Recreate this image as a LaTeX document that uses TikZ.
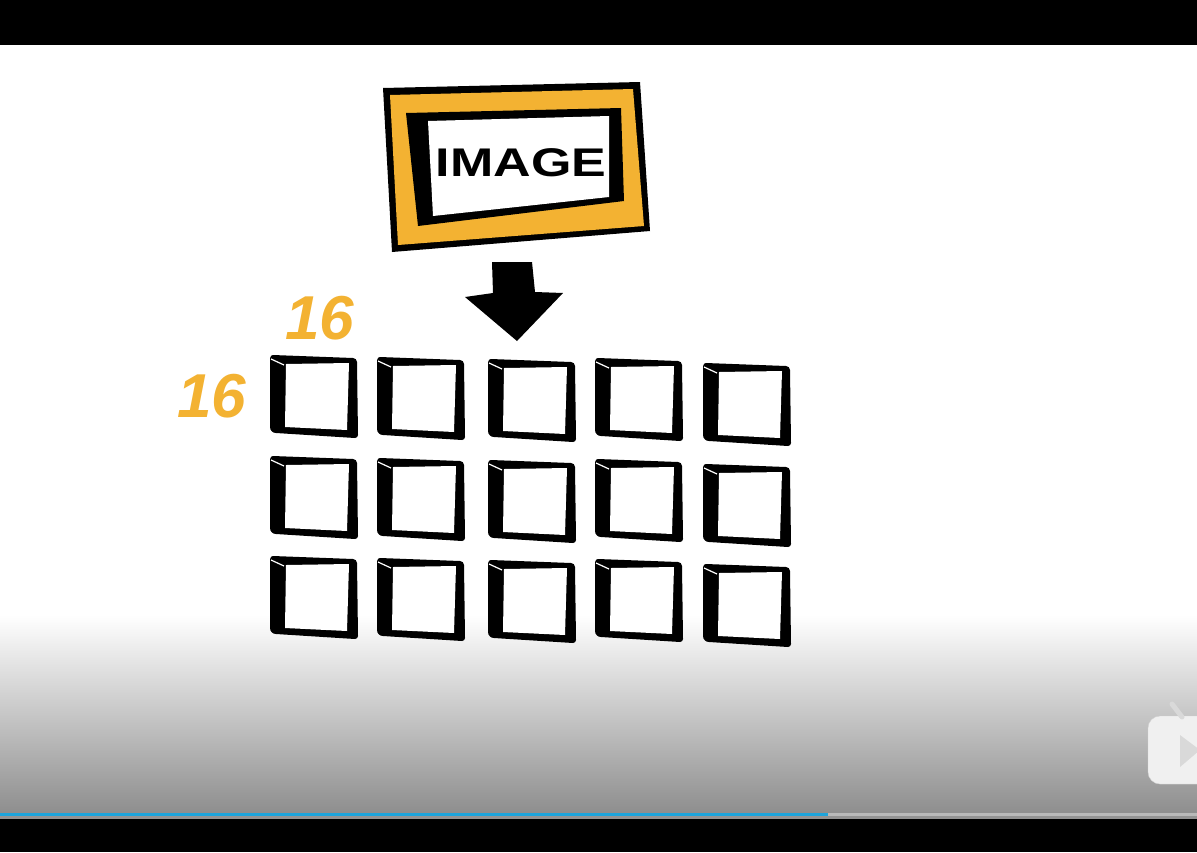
\documentclass[tikz,border=0pt]{standalone}
\usepackage{fontspec}
\setmainfont{Liberation Sans}
\definecolor{markyellow}{HTML}{F3B232}
\definecolor{progblue}{HTML}{1DA4DB}
\definecolor{endgray}{HTML}{8E8E8E}
\tikzset{
  cell/.pic={
    \fill[black] (3,0) -- (83,3) to[out=0,in=90] (87,7) -- (88,80) to[out=-90,in=0] (85,83)
      -- (6,78) to[out=180,in=-90] (0,72) -- (0,8) to[out=90,in=180] (3,0) -- cycle;
    \fill[white] (16,9) -- (79,8) -- (77,75) -- (15,72) -- cycle;
    \draw[white,line width=1.2] (1,4) -- (14,10);
  },
  numlabel/.style={text=markyellow,font=\fontsize{62}{62}\selectfont\bfseries\itshape,inner sep=0pt}
}
\begin{document}
\begin{tikzpicture}[x=1pt,y=-1pt]
\useasboundingbox (0,0) rectangle (1197,852);
% video frame background
\fill[black] (0,0) rectangle (1197,45);
\fill[white] (0,45) rectangle (1197,615);
\shade[top color=white,bottom color=endgray] (0,615) rectangle (1197,813);
\fill[progblue] (0,813) rectangle (828,816);
\fill[gray!55] (828,813) rectangle (1197,816);
\fill[gray!85] (0,816) rectangle (1197,819);
\fill[black] (0,819) rectangle (1197,852);
% player icon
\draw[gray!35,fill=gray!12,rounded corners=12] (1148,716) rectangle (1215,784);
\draw[gray!30,line width=5,line cap=round] (1172,704) -- (1182,717);
\fill[gray!30] (1180,735) -- (1200,750) -- (1180,767) -- cycle;
% image frame
\fill[black] (383,88) -- (640,82) -- (650,231) -- (392,252) -- cycle;
\fill[markyellow] (390,95) -- (633,89) -- (644,226) -- (398,245) -- cycle;
\fill[black] (406,113) -- (621,108) -- (624,201) -- (418,226) -- cycle;
\fill[white] (428,121) -- (609,116) -- (609,197) -- (433,216) -- cycle;
\node[font=\fontsize{40}{40}\selectfont\bfseries,xscale=1.3,inner sep=0pt] (img) at (521,163) {IMAGE};
% arrow
\fill[black] (492,262) -- (532,262) -- (535,292) -- (563,293) -- (517,341) -- (465,297) -- (493,293) -- cycle;
% patch sizes
\node[numlabel] (top16) at (320,318) {16};
\node[numlabel] (left16) at (212,396) {16};
% grid of patches
\foreach \px/\py [count=\c] in {270/355,377/357,488/359,595/358,703/363}{
  \foreach \r/\dy in {1/0,2/101,3/201}{
    \pic (c\c\r) at (\px,\py+\dy) {cell};
  }
}
\end{tikzpicture}
\end{document}
